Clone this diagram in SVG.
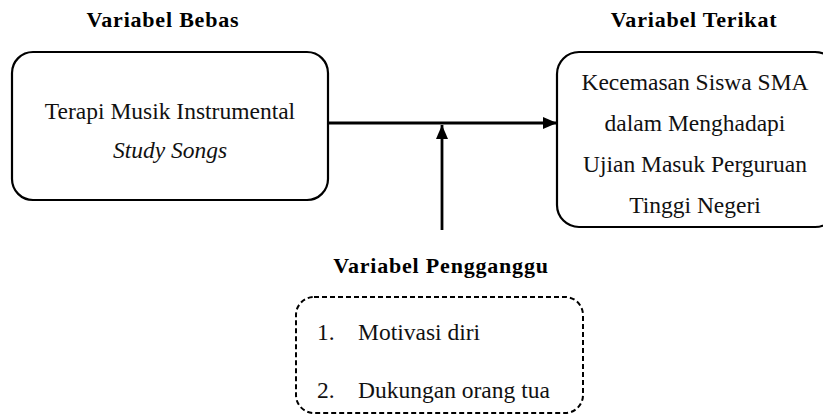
<svg xmlns="http://www.w3.org/2000/svg" width="823" height="416" viewBox="0 0 823 416">
<style>
.box{fill:#fff;stroke:#000;stroke-width:2.2}
.dash{fill:#fff;stroke:#000;stroke-width:2;stroke-dasharray:5 3}
.title{font-family:'Liberation Serif','Times New Roman',serif;font-weight:bold;font-size:22px;letter-spacing:0.8px;fill:#000;text-anchor:middle}
.t{font-family:'Liberation Serif','Times New Roman',serif;font-size:23.5px;fill:#111}
.c{text-anchor:middle}
.i{font-style:italic}
.conn{stroke:#000;stroke-width:2.8;fill:none}
</style>
<defs>
<marker id="ah" viewBox="0 0 14 12" refX="14" refY="6" markerWidth="14" markerHeight="12" markerUnits="userSpaceOnUse" orient="auto">
<path d="M0,0 L14,6 L0,12 Z" fill="#000"/>
</marker>
</defs>
<rect width="823" height="416" fill="#fff"/>
<g id="title-bebas"><text class="title" x="163" y="27">Variabel Bebas</text></g>
<g id="title-terikat"><text class="title" x="694" y="27">Variabel Terikat</text></g>
<g id="node-bebas">
<rect class="box" x="12" y="52" width="316" height="148" rx="21" ry="21"/>
<text class="t c" x="170" y="119">Terapi Musik Instrumental</text>
<text class="t c i" x="170" y="158">Study Songs</text>
</g>
<g id="node-terikat">
<rect class="box" x="557" y="52" width="280" height="175" rx="22" ry="22"/>
<text class="t c" x="695" y="90">Kecemasan Siswa SMA</text>
<text class="t c" x="695" y="131">dalam Menghadapi</text>
<text class="t c" x="695" y="172">Ujian Masuk Perguruan</text>
<text class="t c" x="695" y="213">Tinggi Negeri</text>
</g>
<g id="node-pengganggu">
<text class="title" x="441" y="273">Variabel Pengganggu</text>
<rect class="dash" x="296" y="297" width="287" height="116" rx="18" ry="18"/>
<text class="t" x="317" y="340">1.</text>
<text class="t" x="358" y="340">Motivasi diri</text>
<text class="t" x="317" y="398">2.</text>
<text class="t" x="358" y="398">Dukungan orang tua</text>
</g>
<g id="connectors">
<line class="conn" x1="328" y1="123" x2="557" y2="123" marker-end="url(#ah)"/>
<line class="conn" x1="442" y1="230" x2="442" y2="125" marker-end="url(#ah)"/>
</g>
</svg>
